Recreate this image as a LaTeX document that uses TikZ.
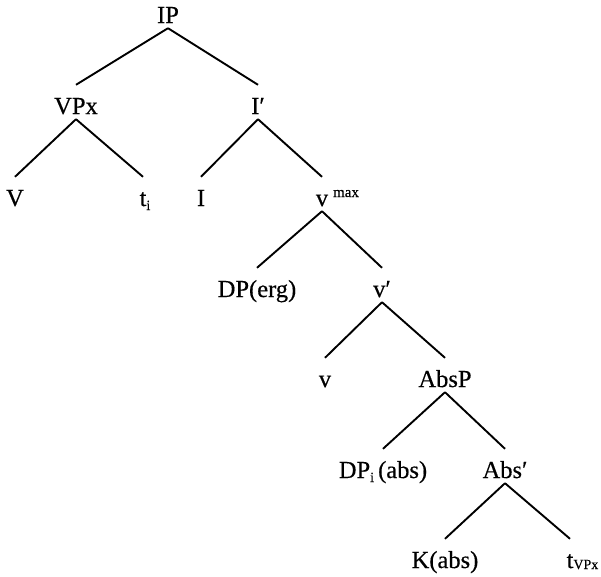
\documentclass[tikz,border=0pt]{standalone}
\usepackage{fontspec}
\setmainfont{Liberation Serif}[FakeBold=0.4]
\usetikzlibrary{calc}
\begin{document}
\begin{tikzpicture}[x=1pt,y=-1pt,
  lab/.style={anchor=base, inner sep=0pt, text height=16pt, text depth=0pt, font=\fontsize{24.5}{28}\selectfont},
  br/.style={line width=1.9pt}]
\useasboundingbox (0,0) rectangle (601,576);
\newcommand\brch[2]{\draw[br] ($(#1.south)+(0,5)$) -- ($(#2.north)+(0,-13)$);}
\node[lab] (IP) at (168,23) {IP};
\node[lab] (VPx) at (76,114) {VPx};
\node[lab] (Ib) at (258,114) {I′};
\node[lab] (V) at (15,206) {V};
\node[lab] (ti) at (143,206) {t\rlap{\raisebox{-4pt}{\fontsize{14}{14}\selectfont i}}};
\node[lab] (I) at (201,206) {I};
\node[lab] (vmax) at (322,206) {v\rlap{\hspace{5pt}\raisebox{9pt}{\fontsize{15}{15}\selectfont max}}};
\node[lab] (DPerg) at (257,297) {DP(erg)};
\node[lab] (vb) at (382,297) {v′};
\node[lab] (v) at (325,387) {v};
\node[lab] (AbsP) at (445,387) {AbsP};
\node[lab] (DPi) at (383,478) {DP\raisebox{-4pt}{\fontsize{14}{14}\selectfont i}\,(abs)};
\node[lab] (Absb) at (505,478) {Abs′};
\node[lab] (K) at (445,568) {K(abs)};
\node[lab] (tv) at (570,568) {t\rlap{\raisebox{-1pt}{\fontsize{14}{14}\selectfont VPx}}};
\brch{IP}{VPx}
\brch{IP}{Ib}
\brch{VPx}{V}
\brch{VPx}{ti}
\brch{Ib}{I}
\brch{Ib}{vmax}
\brch{vmax}{DPerg}
\brch{vmax}{vb}
\brch{vb}{v}
\brch{vb}{AbsP}
\brch{AbsP}{DPi}
\brch{AbsP}{Absb}
\brch{Absb}{K}
\brch{Absb}{tv}
\end{tikzpicture}
\end{document}
